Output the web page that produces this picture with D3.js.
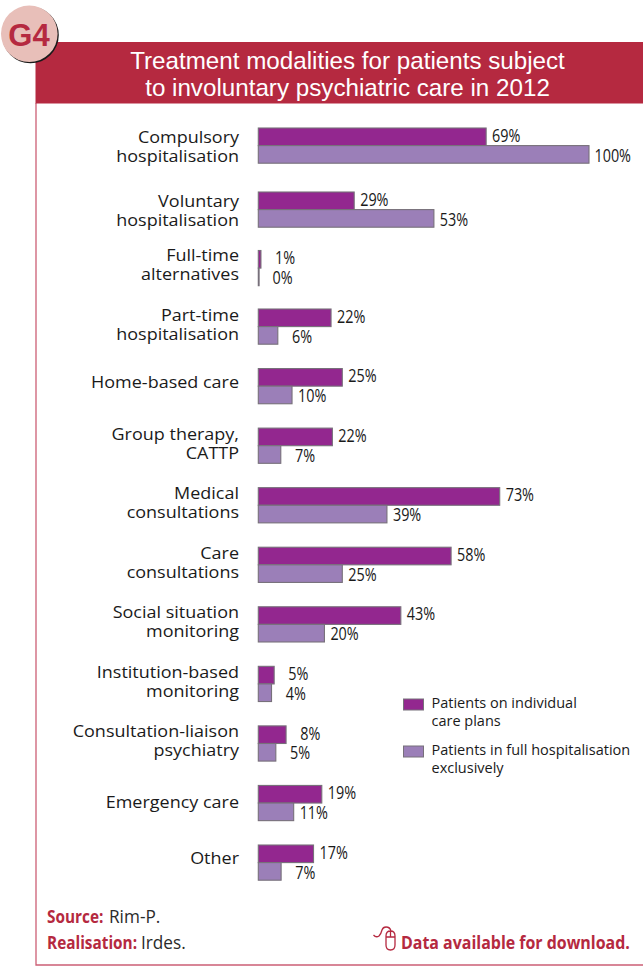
<!DOCTYPE html>
<html><head><meta charset="utf-8">
<script src="https://cdnjs.cloudflare.com/ajax/libs/d3/7.8.5/d3.min.js"></script>
<style>html,body{margin:0;padding:0;background:#fff}svg{display:block}</style></head>
<body><svg id="c" width="643" height="966"></svg>
<script>
const categories=[["Compulsory","hospitalisation"],["Voluntary","hospitalisation"],["Full-time","alternatives"],["Part-time","hospitalisation"],["Home-based care"],["Group therapy,","CATTP"],["Medical","consultations"],["Care","consultations"],["Social situation","monitoring"],["Institution-based","monitoring"],["Consultation-liaison","psychiatry"],["Emergency care"],["Other"]];
const individualPlans=[68.9,29,0.8,22,25.4,22.4,73,58.3,43.1,4.8,8.4,19.2,16.7];
const fullHospitalisation=[100,53.1,0,5.9,10.2,6.8,38.9,25.4,20,4,5.3,10.7,6.9];
const seriesNames=[["Patients on individual","care plans"],["Patients in full hospitalisation","exclusively"]];
const titleLines=["Treatment modalities for patients subject","to involuntary psychiatric care in 2012"];
const colors=["#93278f","#9b7fb8"];
const RED="#b52940";
const svg=d3.select("#c");
const body="'Open Sans','Noto Sans',sans-serif";

// frame
svg.append("path").attr("d","M36 103V965H643").attr("fill","none").attr("stroke","#cc5f75").attr("stroke-width",1.3);
svg.append("rect").attr("x",35.5).attr("y",42).attr("width",607.5).attr("height",61.5).attr("fill",RED);
svg.append("circle").attr("cx",30.5).attr("cy",35).attr("r",28.3).attr("fill","#1a1a1a");
svg.append("circle").attr("cx",29.3).attr("cy",33.8).attr("r",28.3).attr("fill","#e8bfb9");
svg.append("text").attr("x",29).attr("y",45.5).attr("text-anchor","middle").attr("font-family","'Liberation Sans',sans-serif").attr("font-weight",700).attr("font-size",31).attr("fill",RED).text("G4");
svg.selectAll("text.t").data(titleLines).join("text").attr("class","t").attr("x",347.5).attr("y",(d,i)=>69+i*26.5).attr("text-anchor","middle").attr("font-family","'Liberation Sans',sans-serif").attr("font-size",24.2).attr("fill","#fff").text(d=>d);

// scales
const x=d3.scaleLinear().domain([0,100]).range([258.3,589]);
const y=d3.scaleLinear().domain([0,1,2,3,12]).range([128,192,250.5,309,845]);
const labelY=d3.scaleLinear().domain([0,1,2,12]).range([143,207,261,856]);
const barH=17.6;
const fmt=d3.format(".0f");
const series=[individualPlans,fullHospitalisation];
series.forEach((vals,s)=>{
  const g=svg.append("g");
  g.selectAll("rect").data(vals).join("rect")
    .attr("x",x(0)).attr("y",(d,i)=>y(i)+s*barH)
    .attr("width",d=>Math.max(x(d)-x(0),0.8)).attr("height",barH)
    .attr("fill",colors[s]).attr("stroke","#77707a").attr("stroke-width",1.1);
  g.selectAll("text").data(vals).join("text")
    .attr("transform",(d,i)=>`translate(${x(d)+(d>=100?42:34.3)},${y(i)+s*barH+(s?16:13.7)}) scale(.8,1)`)
    .attr("text-anchor","end").attr("font-family",body).attr("font-size",18).attr("fill","#1a1a1a")
    .text(d=>fmt(d)+"%");
});
// categories
categories.forEach((c,i)=>{
  c.forEach((l,j)=>{
    const base=labelY(i)+j*19.4+(c.length>1?0:(l==="Emergency care"?11.5:8));
    svg.append("text").attr("transform",`translate(239,${base}) scale(1.09,1)`).attr("text-anchor","end").attr("font-family",body).attr("font-size",16.5).attr("fill","#1a1a1a").text(l);
  });
});
// legend
[699,746].forEach((yy,s)=>{
  svg.append("rect").attr("x",403.5).attr("y",yy).attr("width",20).attr("height",11).attr("fill",colors[s]).attr("stroke","#77707a");
  seriesNames[s].forEach((l,j)=>svg.append("text").attr("x",431.5).attr("y",yy+9+j*17.5).attr("font-family",body).attr("font-size",14.5).attr("fill","#1a1a1a").text(l));
});
// footer
const foot=(yy,a,b,bx)=>{
  svg.append("text").attr("transform",`translate(47,${yy}) scale(.83,1)`).attr("font-family",body).attr("font-size",18.5).attr("font-weight",700).attr("fill",RED).text(a);
  svg.append("text").attr("transform",`translate(${bx},${yy}) scale(.93,1)`).attr("font-family",body).attr("font-size",18.5).attr("fill","#2a2a2a").text(b);};
foot(923,"Source:","Rim-P.",109);foot(949,"Realisation:","Irdes.",141);
svg.append("text").attr("transform","translate(401,949) scale(.862,1)").attr("font-family",body).attr("font-weight",700).attr("font-size",18.5).attr("fill",RED).text("Data available for download.");
// mouse icon
svg.append("path").attr("d","M373.5 935Q376 938 379 936Q381 934 382 930Q383 927 386 927Q390 927 391 931M386 937H395M390.5 931V937M386 936Q386 931 390.5 931Q395 931 395 936V945Q395 950 390.5 950Q386 950 386 945Z")
 .attr("fill","none").attr("stroke",RED).attr("stroke-width",1.3);
</script></body></html>
